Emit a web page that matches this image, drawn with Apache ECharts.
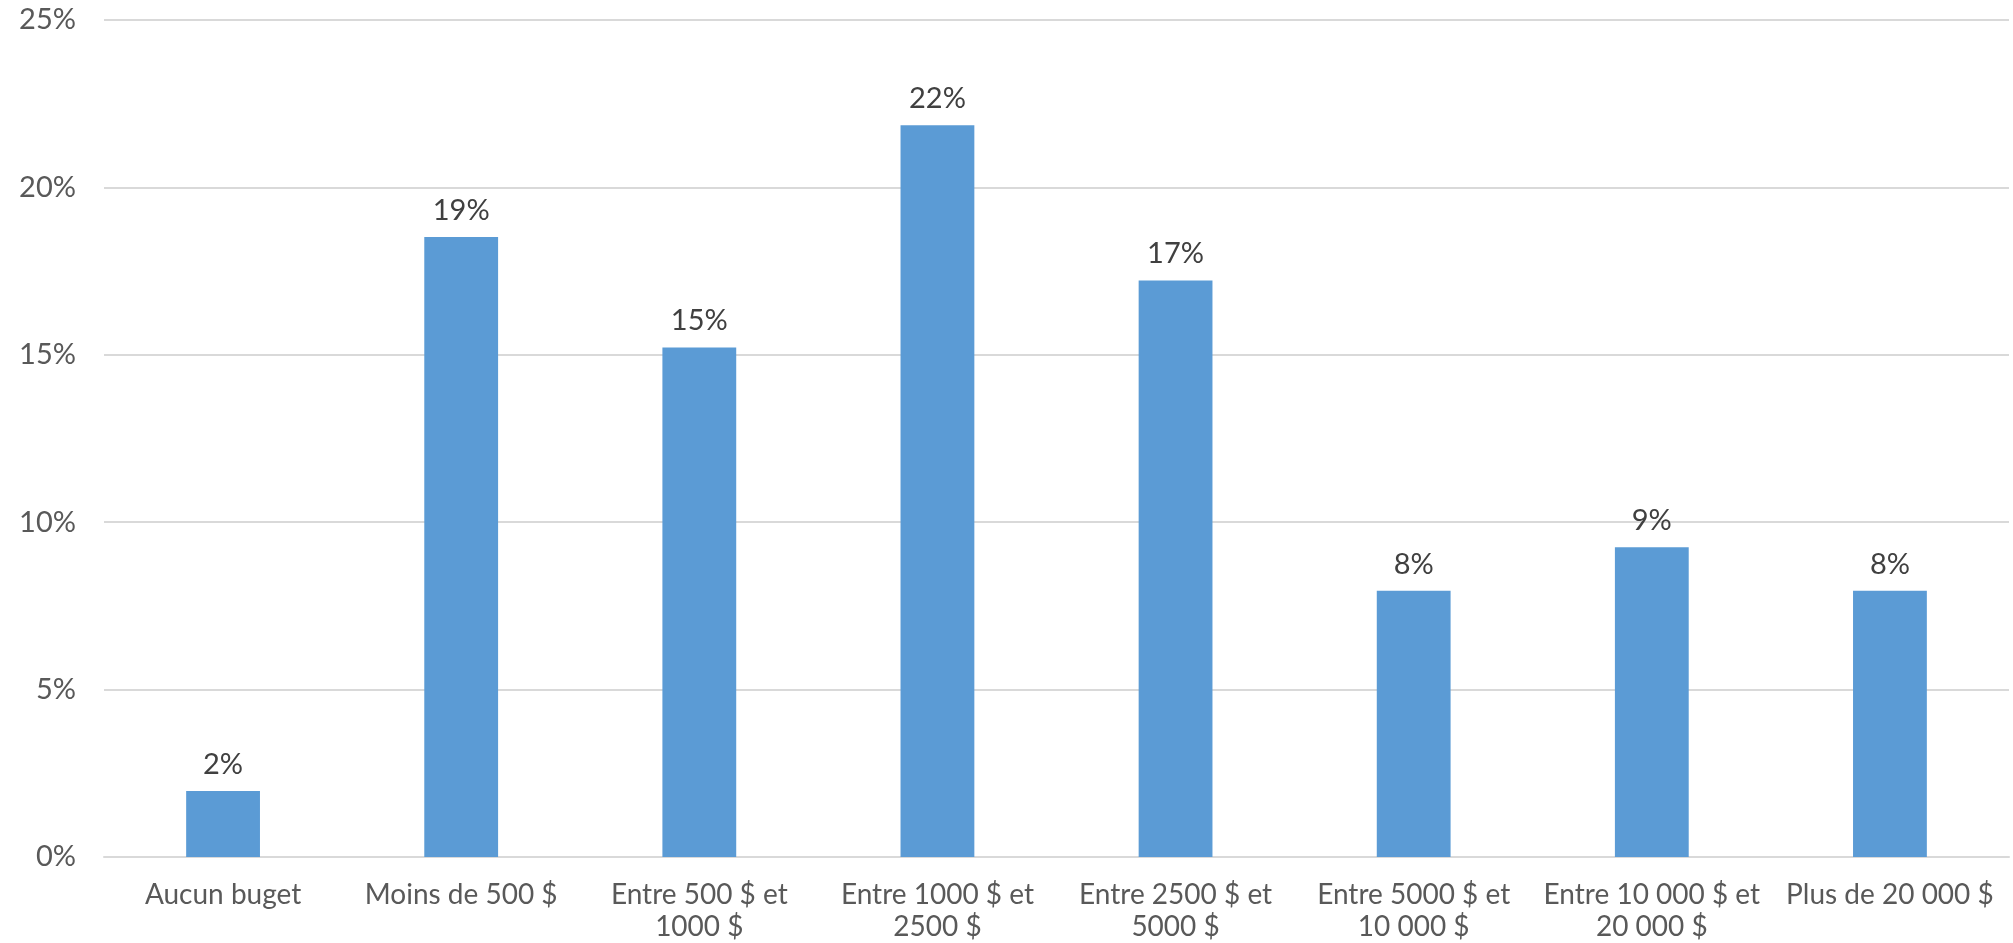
<!DOCTYPE html>
<html>
<head>
<meta charset="utf-8">
<script src="https://cdn.jsdelivr.net/npm/echarts@6/dist/echarts.min.js"></script>
<style>
  html, body { margin: 0; padding: 0; background: #fff; }
  #chart { width: 2013px; height: 943px; }
</style>
</head>
<body>
<div id="chart"></div>
<script>
// Budget brackets (x-axis categories)
const categories = [
  'Aucun buget',
  'Moins de 500 $',
  'Entre 500 $ et\n1000 $',
  'Entre 1000 $ et\n2500 $',
  'Entre 2500 $ et\n5000 $',
  'Entre 5000 $ et\n10 000 $',
  'Entre 10 000 $ et\n20 000 $',
  'Plus de 20 000 $'
];

// Share of respondents per bracket, in percent
const shares = [1.97, 18.52, 15.22, 21.86, 17.22, 7.95, 9.25, 7.95];

// Value axis range and step, in percent
const axisMin = 0;
const axisMax = 25;
const axisStep = 5;

const fontFamily = 'Lato, "DejaVu Sans", sans-serif';

const chart = echarts.init(document.getElementById('chart'));
chart.setOption({
  animation: false,
  grid: { left: 104, right: 4, top: 20, bottom: 85, containLabel: false },
  xAxis: {
    type: 'category',
    data: categories,
    axisLine: { show: true, lineStyle: { color: '#d9d9d9', width: 2 } },
    axisTick: { show: false },
    axisLabel: {
      color: '#595959',
      fontFamily: fontFamily,
      fontSize: 28,
      lineHeight: 32,
      margin: 22,
      interval: 0
    }
  },
  yAxis: {
    type: 'value',
    min: axisMin,
    max: axisMax,
    interval: axisStep,
    axisLine: { show: false },
    axisTick: { show: false },
    splitLine: { lineStyle: { color: '#d9d9d9', width: 2 } },
    axisLabel: {
      color: '#595959',
      fontFamily: fontFamily,
      fontSize: 29,
      margin: 28,
      formatter: v => v + '%'
    }
  },
  series: [{
    type: 'bar',
    data: shares,
    barWidth: '31%',
    itemStyle: { color: '#5b9bd5' },
    label: {
      show: true,
      position: 'top',
      distance: 12,
      color: '#404040',
      fontFamily: fontFamily,
      fontSize: 29,
      formatter: p => Math.round(p.value) + '%'
    }
  }]
});
</script>
</body>
</html>
